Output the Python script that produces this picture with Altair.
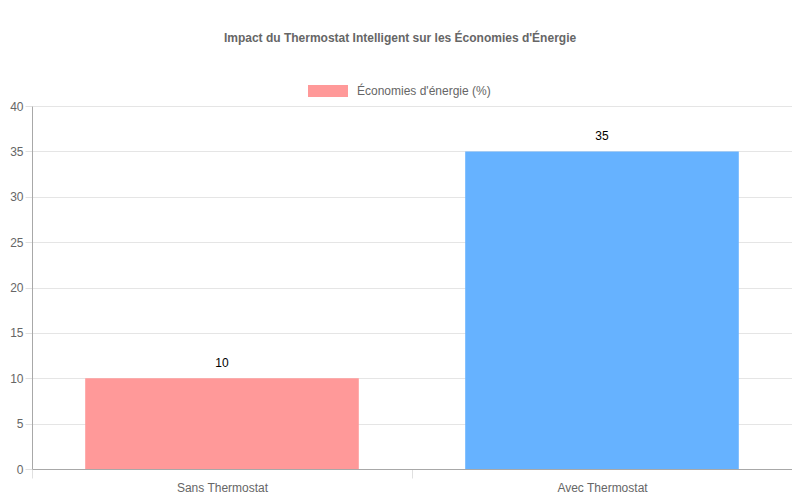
import altair as alt
import pandas as pd

categories = ["Sans Thermostat", "Avec Thermostat"]
savings = [10, 35]
bar_colors = ["#FF9999", "#66B2FF"]
series_name = "Économies d'énergie (%)"

df = pd.DataFrame({"cat": categories, "val": savings, "color": bar_colors})
df["s"] = series_name

font = "Liberation Sans"

x = alt.X(
    "cat:N",
    sort=categories,
    title=None,
    scale=alt.Scale(paddingInner=0, paddingOuter=0),
    axis=alt.Axis(
        labelAngle=0, labelColor="#666", labelFontSize=12, labelFont=font,
        labelPadding=4, tickBand="extent", tickSize=9, tickColor="#e0e0e0",
        gridColor="#e5e5e5", domainColor="#a8a8a8",
    ),
)
y = alt.Y(
    "val:Q",
    title=None,
    scale=alt.Scale(domain=[0, 40]),
    axis=alt.Axis(
        values=[0, 5, 10, 15, 20, 25, 30, 35, 40], labelColor="#666",
        labelFontSize=12, labelFont=font, labelPadding=2, tickSize=7,
        tickColor="#e0e0e0", gridColor="#e5e5e5", domainColor="#a8a8a8",
    ),
)

bars = alt.Chart(df).mark_bar(width=alt.RelativeBandSize(0.72)).encode(
    x=x,
    y=y,
    fill=alt.Fill("color:N", scale=None),
)

labels = alt.Chart(df).mark_text(
    baseline="bottom", dy=-8, fontSize=12, font=font, color="black"
).encode(x=x, y=y, text="val:Q")

legend_layer = alt.Chart(df).mark_square(size=0, filled=True, opacity=1).encode(
    x=x,
    y=y,
    color=alt.Color(
        "s:N",
        scale=alt.Scale(domain=[series_name], range=["#FF9999"]),
        legend=alt.Legend(
            title=None, orient="none", legendX=290, legendY=-21,
            symbolType="M-4,-1.2H4V1.2H-4Z", symbolSize=100,
            symbolStrokeWidth=0, symbolFillColor="#FF9999", symbolOpacity=1,
            labelColor="#666", labelFontSize=12, labelFont=font,
            labelOffset=23,
        ),
    ),
)

chart = (
    alt.layer(bars, labels, legend_layer)
    .properties(
        width=760,
        height=363,
        autosize=alt.AutoSizeParams(type="none"),
        padding={"left": 24, "top": 98, "right": 0, "bottom": 30},
        title=alt.Title(
            "Impact du Thermostat Intelligent sur les Économies d'Énergie",
            fontSize=12, font=font, fontWeight="bold", color="#666",
            dx=-12, offset=40,
        ),
    )
    .configure_view(stroke=None)
)

chart.save("out.html", embed_options={"renderer": "svg", "actions": False})
